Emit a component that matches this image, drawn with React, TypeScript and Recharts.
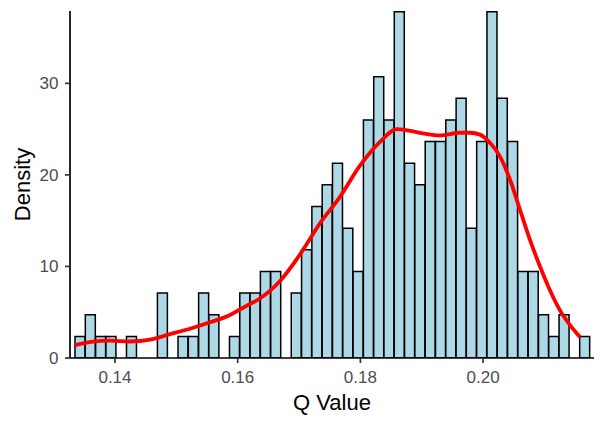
import { ComposedChart, Bar, Line, XAxis, YAxis } from "recharts";

// histogram bins (bin centres) and their density heights
const binCenters = [
  0.13432, 0.136, 0.13768, 0.13936, 0.14104, 0.14271, 0.14439, 0.14607, 0.14775, 0.14943,
  0.15111, 0.15279, 0.15447, 0.15614, 0.15782, 0.1595, 0.16118, 0.16286, 0.16454, 0.16622,
  0.1679, 0.16957, 0.17125, 0.17293, 0.17461, 0.17629, 0.17797, 0.17965, 0.18133, 0.18301,
  0.18468, 0.18636, 0.18804, 0.18972, 0.1914, 0.19308, 0.19476, 0.19644, 0.19811, 0.19979,
  0.20147, 0.20315, 0.20483, 0.20651, 0.20819, 0.20987, 0.21154, 0.21322, 0.2149, 0.21658,
];
const binDensity = [
  2.36, 4.73, 2.36, 2.36, 0, 2.36, 0, 0, 7.09, 0,
  2.36, 2.36, 7.09, 4.73, 0, 2.36, 7.09, 7.09, 9.46, 9.46,
  0, 7.09, 11.82, 16.55, 18.91, 21.28, 14.18, 9.46, 26.0, 30.73,
  26.0, 37.82, 21.28, 18.91, 23.64, 23.64, 26.0, 28.37, 14.18, 23.64,
  37.82, 28.37, 23.64, 9.46, 9.46, 4.73, 2.36, 4.73, 0, 2.36,
];

// kernel density estimate
const kdeX = [
  0.13348, 0.13641, 0.13918, 0.14245, 0.14571, 0.14897, 0.15222, 0.15549, 0.15875, 0.16037,
  0.162, 0.16363, 0.1669, 0.17015, 0.17341, 0.17668, 0.17993, 0.1832, 0.18597, 0.18972,
  0.19297, 0.19623, 0.19786, 0.19949, 0.20112, 0.20276, 0.20438, 0.20601, 0.20764, 0.20928,
  0.2109, 0.21254, 0.21417, 0.2158,
];
const kdeY = [
  1.4, 1.8, 1.9, 1.8, 2.0, 2.6, 3.2, 3.9, 4.7, 5.3,
  5.9, 6.5, 8.4, 11.3, 14.7, 17.6, 21.0, 23.6, 25.0, 24.6,
  24.3, 24.6, 24.6, 24.4, 23.5, 22.0, 19.5, 16.2, 12.9, 10.0,
  7.4, 5.2, 3.6, 2.3,
];

const xTicks = [0.14, 0.16, 0.18, 0.2];
const yTicks = [0, 10, 20, 30];
const xDomain: [number, number] = [0.13267, 0.21808];

const bins = binCenters.map((x, i) => ({ x, density: binDensity[i] }));
const kde = kdeX.map((x, i) => ({ x, kde: kdeY[i] }));

const font = "'Liberation Sans', Arial, sans-serif";

export default function App() {
  return (
    <div style={{ position: "absolute", left: 0, top: 0, background: "#fff" }}>
      <ComposedChart
        width={607}
        height={427}
        data={bins}
        margin={{ top: 11, right: 13, bottom: 0, left: 0 }}
        barCategoryGap={0}
        barGap={0}
        style={{ fontFamily: font }}
      >
        <XAxis
          dataKey="x"
          type="number"
          domain={xDomain}
          allowDataOverflow
          ticks={xTicks}
          tickFormatter={(v) => v.toFixed(2)}
          height={69}
          tickSize={5}
          tickMargin={7.5}
          axisLine={{ stroke: "#000", strokeWidth: 1.7 }}
          tickLine={{ stroke: "#333", strokeWidth: 1.7 }}
          tick={{ fill: "#4D4D4D", fontSize: 17 }}
          label={{ value: "Q Value", position: "insideBottom", offset: 17, fill: "#000", fontSize: 22 }}
        />
        <XAxis xAxisId="kde" dataKey="x" type="number" domain={xDomain} allowDataOverflow hide height={69} />
        <YAxis
          type="number"
          domain={[0, 37.9]}
          allowDataOverflow
          ticks={yTicks}
          width={70}
          tickSize={5}
          tickMargin={6.5}
          axisLine={{ stroke: "#000", strokeWidth: 1.7 }}
          tickLine={{ stroke: "#333", strokeWidth: 1.7 }}
          tick={{ fill: "#4D4D4D", fontSize: 17 }}
          label={{
            value: "Density",
            angle: -90,
            position: "insideLeft",
            offset: 22,
            fill: "#000",
            fontSize: 22,
            style: { textAnchor: "middle" },
          }}
        />
        <Bar dataKey="density" fill="#ADD8E6" stroke="#000" strokeWidth={1.5} isAnimationActive={false} />
        <Line
          xAxisId="kde"
          data={kde}
          dataKey="kde"
          type="monotone"
          stroke="#FF0000"
          strokeWidth={3.8}
          dot={false}
          isAnimationActive={false}
        />
      </ComposedChart>
    </div>
  );
}
